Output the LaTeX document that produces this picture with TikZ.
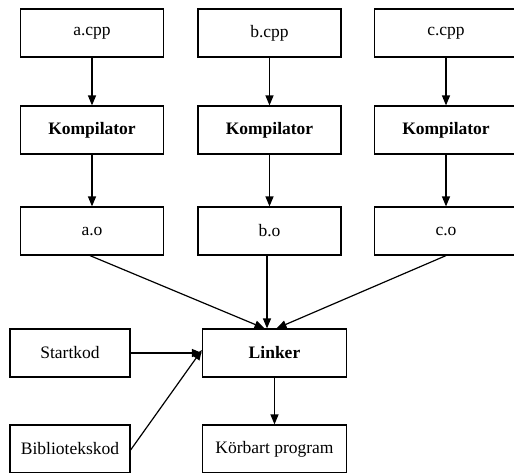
\documentclass[tikz,border=0pt]{standalone}
\usepackage{fontspec}
\setmainfont{Liberation Serif}
\usetikzlibrary{arrows.meta}
\begin{document}
\begin{tikzpicture}[x=1pt,y=-1pt,
  box/.style={draw,line width=1.2pt,minimum width=143pt,minimum height=48pt,inner sep=0pt,font=\fontsize{17.5}{20}\selectfont},
  sbox/.style={box,minimum width=120pt},
  bbox/.style={box,font=\fontsize{17.5}{20}\selectfont\bfseries},
  arr/.style={line width=1.2pt,-{Triangle[length=10pt,width=8pt]}}]
\useasboundingbox (0,0) rectangle (514,472);
\clip (0,0) rectangle (514,472);
\node[box] (acpp) at (92,33) {a.cpp};
\node[box] (bcpp) at (269.5,33) {b.cpp};
\node[box] (ccpp) at (446,33) {c.cpp};
\node[bbox] (ka) at (92,130) {Kompilator};
\node[bbox] (kb) at (269.5,130) {Kompilator};
\node[bbox] (kc) at (446,130) {Kompilator};
\node[box] (ao) at (92,231) {a.o};
\node[box] (bo) at (269.5,231) {b.o};
\node[box] (co) at (446,231) {c.o};
\node[bbox,minimum width=144pt] (linker) at (274.5,353) {Linker};
\node[sbox] (start) at (70,353) {Startkod};
\node[sbox] (bib) at (70,449) {Bibliotekskod};
\node[box,minimum width=144pt] (korb) at (274.5,449) {Körbart program};
\draw[arr] (acpp) -- (ka);
\draw[arr] (bcpp) -- (kb);
\draw[arr] (ccpp) -- (kc);
\draw[arr] (ka) -- (ao);
\draw[arr] (kb) -- (bo);
\draw[arr] (kc) -- (co);
\coordinate (la) at ([xshift=-10pt]linker.north);
\coordinate (lb) at ([xshift=-7.5pt]linker.north);
\coordinate (lc) at ([xshift=2pt]linker.north);
\coordinate (lw) at ([yshift=3pt]linker.west);
\draw[arr] ([xshift=-2pt]ao.south) -- (la);
\draw[arr] ([xshift=-2.5pt]bo.south) -- (lb);
\draw[arr] (co.south) -- (lc);
\draw[arr] (start.east) -- (linker.west);
\draw[arr] ([yshift=-1pt]bib.east) -- (lw);
\draw[arr] (linker) -- (korb);
\end{tikzpicture}
\end{document}
